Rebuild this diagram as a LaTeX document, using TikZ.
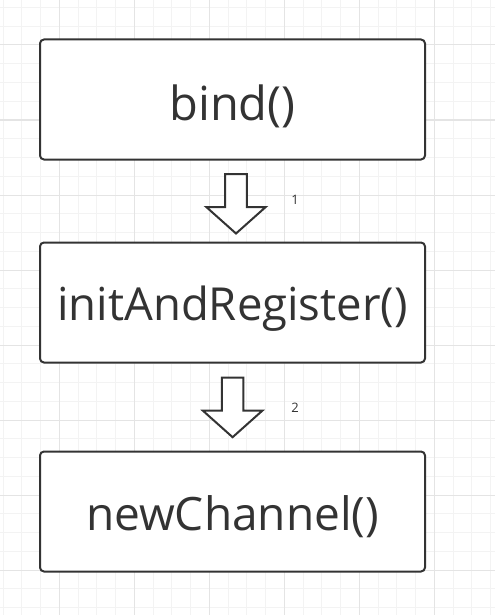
\documentclass[tikz,border=0pt]{standalone}
\usepackage{fontspec}
\setmainfont{Open Sans}
\definecolor{boxline}{HTML}{333333}
\definecolor{gridminor}{HTML}{F3F3F3}
\definecolor{gridmajor}{HTML}{E4E4E4}
\tikzset{
  box/.style={draw=boxline, line width=2pt, rounded corners=4pt, fill=white,
    minimum width=385pt, minimum height=120pt, inner sep=0pt, text=boxline, text depth=0pt},
  blockarrow/.style={draw=boxline, line width=2pt, fill=white, line join=miter},
  steplabel/.style={text=boxline, inner sep=0pt, font=\fontsize{13}{15}\selectfont},
  downarrow/.pic={
    \draw[blockarrow] (-10.8,0) -- (10.8,0) -- (10.8,33) -- (29.7,33)
      -- (0,59.5) -- (-29.7,33) -- (-10.8,33) -- cycle;
  }
}
\begin{document}
\begin{tikzpicture}[x=1pt, y=-1pt]
   \useasboundingbox (0,0) rectangle (495,615);
   % grid
   \foreach \i in {0,...,26}
      \draw[gridminor, line width=1pt] ({3.05+18.75*\i},0) -- ({3.05+18.75*\i},615);
   \foreach \j in {0,...,32}
      \draw[gridminor, line width=1pt] (0,{7.5+18.75*\j}) -- (495,{7.5+18.75*\j});
   \foreach \i in {0,...,5}
      \draw[gridmajor, line width=1pt] ({59.3+75*\i},0) -- ({59.3+75*\i},615);
   \foreach \j in {0,...,7}
      \draw[gridmajor, line width=1pt] (0,{45+75*\j}) -- (495,{45+75*\j});

   \node[box, text height=43pt, font=\fontsize{47}{54}\selectfont] (bind) at (232.5,99.5) {bind()};
   \node[box, text height=35pt, font=\fontsize{45.5}{54}\selectfont] (init) at (232.5,302.5) {initAndRegister()};
   \node[box, text height=37pt, font=\fontsize{46}{54}\selectfont] (chan) at (232.5,511.5) {newChannel()};

   \pic (arr1) at (236,174) {downarrow};
   \pic (arr2) at (232.6,377.7) {downarrow};
   \node[steplabel] (l1) at (295,200) {1};
   \node[steplabel] (l2) at (295,408) {2};
\end{tikzpicture}
\end{document}
